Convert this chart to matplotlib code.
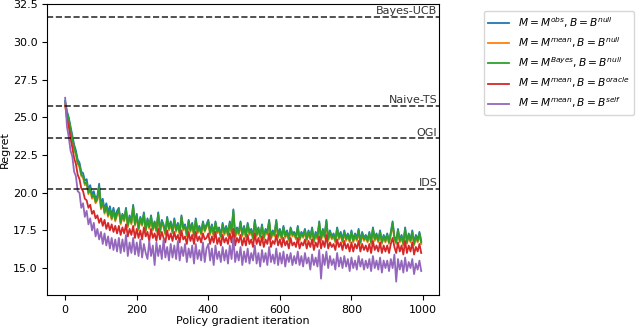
import numpy as np
import matplotlib
matplotlib.use('Agg')
import matplotlib.pyplot as plt

# regret every 5 policy gradient iterations
iters = np.arange(0, 1000, 5)

regret_obs_null = [
    26.1, 25.4, 25.0, 24.4, 23.8, 23.2, 22.8, 22.2, 22.0, 21.4,
    21.3, 20.8, 20.9, 20.2, 20.5, 19.9, 20.1, 19.6, 19.8, 20.6,
    19.2, 19.6, 18.9, 19.3, 18.7, 19.1, 18.5, 19.0, 18.4, 18.8,
    19.0, 18.1, 18.6, 18.3, 19.0, 17.9, 18.5, 18.1, 19.2, 18.0,
    18.6, 17.7, 18.4, 18.0, 18.7, 17.6, 18.3, 17.8, 18.5, 17.7,
    18.1, 17.6, 18.7, 17.5, 18.2, 17.9, 17.4, 18.4, 17.7, 18.1,
    17.5, 18.3, 17.6, 18.0, 17.4, 18.5, 17.7, 17.9, 17.3, 18.2,
    17.6, 18.0, 17.3, 18.3, 17.5, 17.8, 17.4, 18.1, 17.6, 17.9,
    18.2, 17.4, 17.9, 17.3, 18.1, 17.5, 17.7, 17.2, 18.0, 17.4,
    17.8, 17.3, 18.1, 17.5, 18.9, 17.2, 17.7, 17.4, 18.1, 17.3,
    17.8, 17.2, 18.0, 17.4, 17.6, 17.1, 18.2, 17.3, 17.7, 17.2,
    17.9, 17.1, 17.6, 17.4, 18.2, 17.1, 17.5, 17.3, 18.2, 17.2,
    17.6, 17.1, 17.8, 17.2, 17.5, 17.0, 17.7, 17.3, 17.4, 17.1,
    17.8, 17.0, 17.4, 17.2, 17.6, 17.0, 17.5, 17.1, 17.7, 16.9,
    17.4, 17.1, 18.1, 17.0, 17.6, 17.2, 18.2, 17.0, 17.5, 17.1,
    17.3, 16.9, 17.7, 17.1, 17.4, 16.9, 17.5, 17.0, 17.3, 16.9,
    17.5, 16.9, 17.3, 17.0, 17.6, 16.8, 17.4, 17.0, 17.2, 16.9,
    17.4, 16.8, 17.7, 17.0, 17.3, 16.9, 17.5, 16.8, 17.2, 16.9,
    17.3, 16.8, 17.4, 18.1, 17.1, 16.8, 17.6, 16.9, 17.2, 16.7,
    17.7, 16.8, 17.3, 16.9, 17.5, 16.7, 17.2, 16.9, 17.4, 16.8,
]
regret_mean_null = [
    25.9, 25.2, 24.8, 24.1, 23.5, 22.9, 22.5, 21.9, 21.7, 21.1,
    21.0, 20.5, 20.6, 19.9, 20.2, 19.6, 19.8, 19.3, 19.5, 20.2,
    18.9, 19.3, 18.6, 19.0, 18.4, 18.8, 18.2, 18.7, 18.1, 18.5,
    18.8, 17.9, 18.4, 18.1, 18.8, 17.7, 18.3, 17.9, 19.0, 17.8,
    18.4, 17.5, 18.2, 17.8, 18.5, 17.4, 18.1, 17.6, 18.3, 17.5,
    17.9, 17.4, 18.5, 17.3, 18.0, 17.7, 17.2, 18.2, 17.5, 17.9,
    17.3, 18.1, 17.4, 17.8, 17.2, 18.3, 17.5, 17.7, 17.1, 18.0,
    17.4, 17.8, 17.1, 18.1, 17.3, 17.6, 17.2, 17.9, 17.4, 17.7,
    18.0, 17.2, 17.7, 17.1, 17.9, 17.3, 17.5, 17.0, 17.8, 17.2,
    17.6, 17.1, 17.9, 17.3, 18.6, 17.0, 17.5, 17.2, 17.9, 17.1,
    17.6, 17.0, 17.8, 17.2, 17.4, 16.9, 18.0, 17.1, 17.5, 17.0,
    17.7, 16.9, 17.4, 17.2, 18.0, 16.9, 17.3, 17.1, 18.0, 17.0,
    17.4, 16.9, 17.6, 17.0, 17.3, 16.8, 17.5, 17.1, 17.2, 16.9,
    17.6, 16.8, 17.2, 17.0, 17.4, 16.8, 17.3, 16.9, 17.5, 16.7,
    17.2, 16.9, 17.9, 16.8, 17.4, 17.0, 18.0, 16.8, 17.3, 16.9,
    17.1, 16.7, 17.5, 16.9, 17.2, 16.7, 17.3, 16.8, 17.1, 16.7,
    17.3, 16.7, 17.1, 16.8, 17.4, 16.6, 17.2, 16.8, 17.0, 16.7,
    17.2, 16.6, 17.5, 16.8, 17.1, 16.7, 17.3, 16.6, 17.0, 16.7,
    17.1, 16.6, 17.2, 17.9, 16.9, 16.6, 17.4, 16.7, 17.0, 16.5,
    17.5, 16.6, 17.1, 16.7, 17.3, 16.5, 17.0, 16.7, 17.2, 16.6,
]
regret_bayes_null = [
    26.0, 25.3, 24.9, 24.2, 23.6, 23.0, 22.6, 22.0, 21.8, 21.2,
    21.1, 20.6, 20.7, 20.0, 20.3, 19.7, 19.9, 19.4, 19.6, 20.4,
    19.0, 19.4, 18.7, 19.1, 18.5, 18.9, 18.3, 18.8, 18.2, 18.6,
    18.9, 18.0, 18.5, 18.2, 18.9, 17.8, 18.4, 18.0, 19.1, 17.9,
    18.5, 17.6, 18.3, 17.9, 18.6, 17.5, 18.2, 17.7, 18.4, 17.6,
    18.0, 17.5, 18.6, 17.4, 18.1, 17.8, 17.3, 18.3, 17.6, 18.0,
    17.4, 18.2, 17.5, 17.9, 17.3, 18.4, 17.6, 17.8, 17.2, 18.1,
    17.5, 17.9, 17.2, 18.2, 17.4, 17.7, 17.3, 18.0, 17.5, 17.8,
    18.1, 17.3, 17.8, 17.2, 18.0, 17.4, 17.6, 17.1, 17.9, 17.3,
    17.7, 17.2, 18.0, 17.4, 18.8, 17.1, 17.6, 17.3, 18.0, 17.2,
    17.7, 17.1, 17.9, 17.3, 17.5, 17.0, 18.1, 17.2, 17.6, 17.1,
    17.8, 17.0, 17.5, 17.3, 18.1, 17.0, 17.4, 17.2, 18.1, 17.1,
    17.5, 17.0, 17.7, 17.1, 17.4, 16.9, 17.6, 17.2, 17.3, 17.0,
    17.7, 16.9, 17.3, 17.1, 17.5, 16.9, 17.4, 17.0, 17.6, 16.8,
    17.3, 17.0, 18.0, 16.9, 17.5, 17.1, 18.1, 16.9, 17.4, 17.0,
    17.2, 16.8, 17.6, 17.0, 17.3, 16.8, 17.4, 16.9, 17.2, 16.8,
    17.4, 16.8, 17.2, 16.9, 17.5, 16.7, 17.3, 16.9, 17.1, 16.8,
    17.3, 16.7, 17.6, 16.9, 17.2, 16.8, 17.4, 16.7, 17.1, 16.8,
    17.2, 16.7, 17.3, 18.0, 17.0, 16.7, 17.5, 16.8, 17.1, 16.6,
    17.6, 16.7, 17.2, 16.8, 17.4, 16.6, 17.1, 16.8, 17.3, 16.7,
]
regret_mean_oracle = [
    25.8, 24.9, 24.4, 23.6, 23.0, 22.3, 21.9, 21.2, 20.9, 20.3,
    20.1, 19.6, 19.5, 19.0, 19.2, 18.6, 18.8, 18.3, 18.5, 18.0,
    18.3, 17.8, 18.2, 17.6, 18.0, 17.5, 17.9, 17.4, 17.8, 17.3,
    17.8, 17.2, 17.7, 17.3, 17.9, 17.1, 17.6, 17.2, 17.8, 17.0,
    17.6, 17.0, 17.5, 16.9, 17.7, 17.1, 17.4, 16.8, 17.6, 17.0,
    17.3, 16.8, 17.6, 16.9, 17.4, 17.0, 16.7, 17.5, 16.9, 17.3,
    16.8, 17.4, 16.9, 17.2, 16.7, 17.5, 16.9, 17.1, 16.6, 17.4,
    16.8, 17.2, 16.6, 17.4, 16.8, 17.1, 16.7, 17.3, 16.9, 17.0,
    17.3, 16.6, 17.1, 16.7, 17.4, 16.6, 17.0, 16.5, 17.2, 16.7,
    17.0, 16.6, 17.3, 16.7, 17.6, 16.5, 17.0, 16.7, 17.2, 16.5,
    17.0, 16.5, 17.2, 16.6, 16.9, 16.4, 17.3, 16.6, 17.0, 16.5,
    17.1, 16.4, 16.9, 16.6, 17.3, 16.4, 16.8, 16.6, 17.2, 16.5,
    16.9, 16.4, 17.0, 16.5, 16.8, 16.3, 17.0, 16.5, 16.7, 16.4,
    17.0, 16.3, 16.7, 16.5, 16.9, 16.3, 16.8, 16.4, 16.9, 16.2,
    16.7, 16.4, 17.1, 16.3, 16.8, 16.4, 17.2, 16.3, 16.7, 16.4,
    16.6, 16.2, 16.9, 16.4, 16.7, 16.2, 16.8, 16.3, 16.6, 16.1,
    16.7, 16.1, 16.6, 16.3, 16.8, 16.1, 16.6, 16.2, 16.5, 16.1,
    16.6, 16.0, 16.8, 16.2, 16.5, 16.1, 16.7, 16.0, 16.5, 16.1,
    16.5, 16.0, 16.6, 17.0, 16.4, 16.0, 16.7, 16.1, 16.5, 15.9,
    16.8, 16.0, 16.5, 16.1, 16.7, 15.9, 16.4, 16.1, 16.6, 16.0,
]
regret_mean_self = [
    26.3, 24.4, 23.7, 22.8, 22.4, 21.4, 21.1, 20.1, 20.0, 19.0,
    19.3, 18.4, 18.8, 17.9, 18.3, 17.5, 18.0, 17.1, 17.6, 16.9,
    17.4, 16.6, 17.3, 16.5, 17.1, 16.3, 17.0, 16.2, 16.9, 16.1,
    17.0, 16.0, 16.9, 16.1, 17.2, 15.8, 16.7, 16.0, 17.0, 15.9,
    16.7, 15.8, 16.9, 15.7, 16.6, 16.0, 15.6, 16.8, 15.8, 16.5,
    15.2, 16.7, 15.8, 16.5, 15.6, 16.9, 15.7, 16.4, 15.5, 16.6,
    15.7, 16.5, 15.6, 16.8, 15.5, 16.4, 15.8, 16.6, 15.4, 16.3,
    15.7, 16.5, 15.3, 16.6, 15.6, 16.2, 15.5, 16.7, 15.4, 16.3,
    16.6, 15.5, 16.3, 15.2, 16.5, 15.6, 16.1, 15.4, 16.4, 15.5,
    16.2, 15.3, 16.5, 15.6, 17.0, 15.4, 16.1, 15.5, 16.4, 15.2,
    16.1, 15.4, 16.3, 15.3, 16.0, 15.5, 16.5, 15.3, 16.0, 15.1,
    16.2, 15.4, 16.0, 15.2, 16.4, 15.4, 15.9, 15.3, 16.3, 15.2,
    16.0, 15.3, 16.1, 15.1, 15.9, 15.4, 16.0, 15.2, 15.8, 15.3,
    16.1, 15.2, 15.8, 15.1, 16.0, 15.3, 15.7, 14.9, 15.9, 15.2,
    15.7, 15.1, 16.2, 14.3, 15.9, 15.2, 16.1, 15.0, 15.8, 15.2,
    15.6, 14.9, 16.0, 15.1, 15.7, 15.0, 15.8, 15.1, 15.6, 14.8,
    15.7, 15.0, 15.5, 14.9, 15.8, 15.1, 15.6, 14.9, 15.5, 15.0,
    15.6, 14.8, 15.8, 15.0, 15.5, 14.9, 15.7, 14.7, 15.5, 15.0,
    15.5, 14.8, 15.6, 15.0, 15.9, 14.1, 15.6, 14.9, 15.5, 14.7,
    15.7, 14.8, 15.4, 15.0, 15.6, 14.6, 15.3, 14.9, 15.5, 14.8,
]

series = [regret_obs_null, regret_mean_null, regret_bayes_null,
          regret_mean_oracle, regret_mean_self]
labels = [r'$M=M^{obs}, B=B^{null}$',
          r'$M=M^{mean}, B=B^{null}$',
          r'$M=M^{Bayes}, B=B^{null}$',
          r'$M=M^{mean}, B=B^{oracle}$',
          r'$M=M^{mean}, B=B^{self}$']

# baselines
baseline_names = ['Bayes-UCB', 'Naive-TS', 'OGI', 'IDS']
baseline_regret = [31.65, 25.75, 23.6, 20.25]

plt.rcParams['font.size'] = 8
fig = plt.figure(figsize=(6.4, 3.28), dpi=100)
ax = fig.add_axes([0.074, 0.101, 0.612, 0.887])

for y, lab in zip(series, labels):
    ax.plot(iters, y, lw=1.3, label=lab)

for name, val in zip(baseline_names, baseline_regret):
    ax.axhline(val, color='k', ls='--', lw=1.2, alpha=0.8)
    ax.text(1040, val + 0.05, name, ha='right', va='bottom', color='#333333')

ax.set_xlabel('Policy gradient iteration', labelpad=1)
ax.set_ylabel('Regret', labelpad=2)
ax.legend(loc='upper left', bbox_to_anchor=(1.1, 0.995), fontsize=7.7)
fig.savefig('out.png')
